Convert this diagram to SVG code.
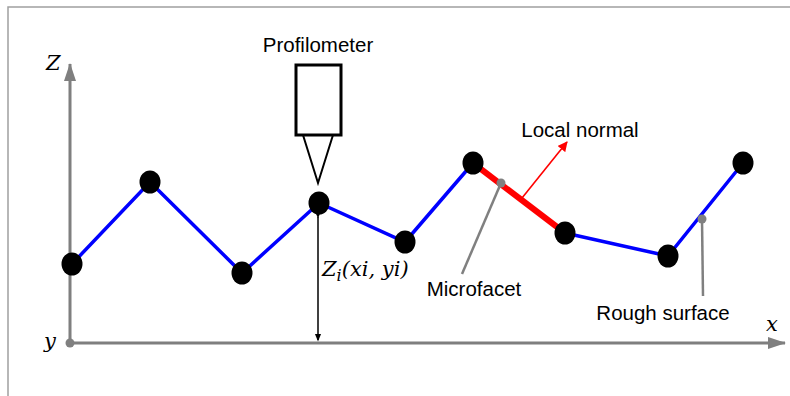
<svg xmlns="http://www.w3.org/2000/svg" width="790" height="396" viewBox="0 0 790 396">
<defs>
<style>
.lbl{font-family:"Liberation Sans",Arial,sans-serif;font-size:20.5px;fill:#000}
.math{font-family:"DejaVu Serif","Liberation Serif",serif;font-style:italic;font-size:21px;fill:#000}
.node{fill:#000}
.seg{stroke:#0000ff;stroke-width:3.5;fill:none}
.axis{stroke:#7f7f7f;stroke-width:3;fill:none}
.lead{stroke:#808080;stroke-width:2.5;fill:none}
</style>
<marker id="gArrBig" markerWidth="18" markerHeight="12" refX="17" refY="6" orient="auto" markerUnits="userSpaceOnUse" viewBox="0 0 18 12">
<path d="M0,0 L18,6 L0,12 Z" fill="#7f7f7f"/>
</marker>
<marker id="rArr" markerWidth="10" markerHeight="10" refX="9" refY="5" orient="auto" markerUnits="userSpaceOnUse" viewBox="0 0 10 10">
<path d="M0,0 L10,5 L0,10 Z" fill="#ff0000"/>
</marker>
<marker id="kArr" markerWidth="8" markerHeight="10" refX="8" refY="4" orient="auto" markerUnits="userSpaceOnUse" viewBox="0 0 10 8">
<path d="M0,0 L10,4 L0,8 Z" fill="#000"/>
</marker>
</defs>
<rect x="0" y="0" width="790" height="396" fill="#fff"/>
<path d="M8,396 L8,7 L790,7" stroke="#a0a0a0" stroke-width="1.5" fill="none"/>

<g id="axes">
<line class="axis" x1="70" y1="343" x2="70" y2="64" marker-end="url(#gArrBig)"/>
<line class="axis" x1="70" y1="343" x2="785" y2="343" marker-end="url(#gArrBig)"/>
<circle cx="70" cy="343" r="4.5" fill="#808080"/>
<text class="math" x="46" y="70">Z</text>
<text class="math" x="44" y="348">y</text>
<text class="math" x="766" y="331">x</text>
</g>

<g id="connectors">
<polyline class="seg" points="72,264 150,182 242,273 319,203 405,242 473,163"/>
<polyline class="seg" points="565,233 668,256 743,163"/>
<line x1="473" y1="163" x2="565" y2="233" stroke="#ff0000" stroke-width="6"/>
<line x1="522" y1="198" x2="567" y2="142" stroke="#ff0000" stroke-width="1.6" marker-end="url(#rArr)"/>
<line class="lead" x1="501" y1="183" x2="462" y2="274"/>
<line class="lead" x1="702" y1="219" x2="703" y2="296"/>
<line x1="318" y1="217" x2="318" y2="340" stroke="#000" stroke-width="1.5" marker-start="url(#kArr)" marker-end="url(#kArr)"/>
</g>

<g id="profilometer">
<rect x="296" y="65" width="45" height="70" fill="none" stroke="#000" stroke-width="3"/>
<path d="M303,135 L318,183 L333,135" fill="none" stroke="#000" stroke-width="2"/>
<text class="lbl" x="318" y="52" text-anchor="middle">Profilometer</text>
</g>

<g id="n1"><ellipse class="node" cx="72" cy="264" rx="10.5" ry="11.5"/></g>
<g id="n2"><ellipse class="node" cx="150" cy="182" rx="10.5" ry="11.5"/></g>
<g id="n3"><ellipse class="node" cx="242" cy="273" rx="10.5" ry="11.5"/></g>
<g id="n4"><ellipse class="node" cx="319" cy="203" rx="10.5" ry="11.5"/></g>
<g id="n5"><ellipse class="node" cx="405" cy="242" rx="10.5" ry="11.5"/></g>
<g id="n6"><ellipse class="node" cx="473" cy="163" rx="10.5" ry="11.5"/></g>
<g id="n7"><ellipse class="node" cx="565" cy="233" rx="10.5" ry="11.5"/></g>
<g id="n8"><ellipse class="node" cx="668" cy="256" rx="10.5" ry="11.5"/></g>
<g id="n9"><ellipse class="node" cx="743" cy="163" rx="10.5" ry="11.5"/></g>

<g id="microfacet">
<circle cx="501" cy="183" r="4.5" fill="#808080"/>
<text class="lbl" x="474" y="296" text-anchor="middle">Microfacet</text>
</g>
<g id="rough">
<circle cx="702" cy="219" r="4.5" fill="#808080"/>
<text class="lbl" x="663" y="320" text-anchor="middle">Rough surface</text>
</g>
<g id="normal">
<text class="lbl" x="580" y="137" text-anchor="middle">Local normal</text>
</g>
<g id="zlabel">
<text class="math" x="322" y="276" font-size="22.5">Z<tspan font-size="16" dy="5">i</tspan><tspan dy="-5">(xi, yi)</tspan></text>
</g>
</svg>
